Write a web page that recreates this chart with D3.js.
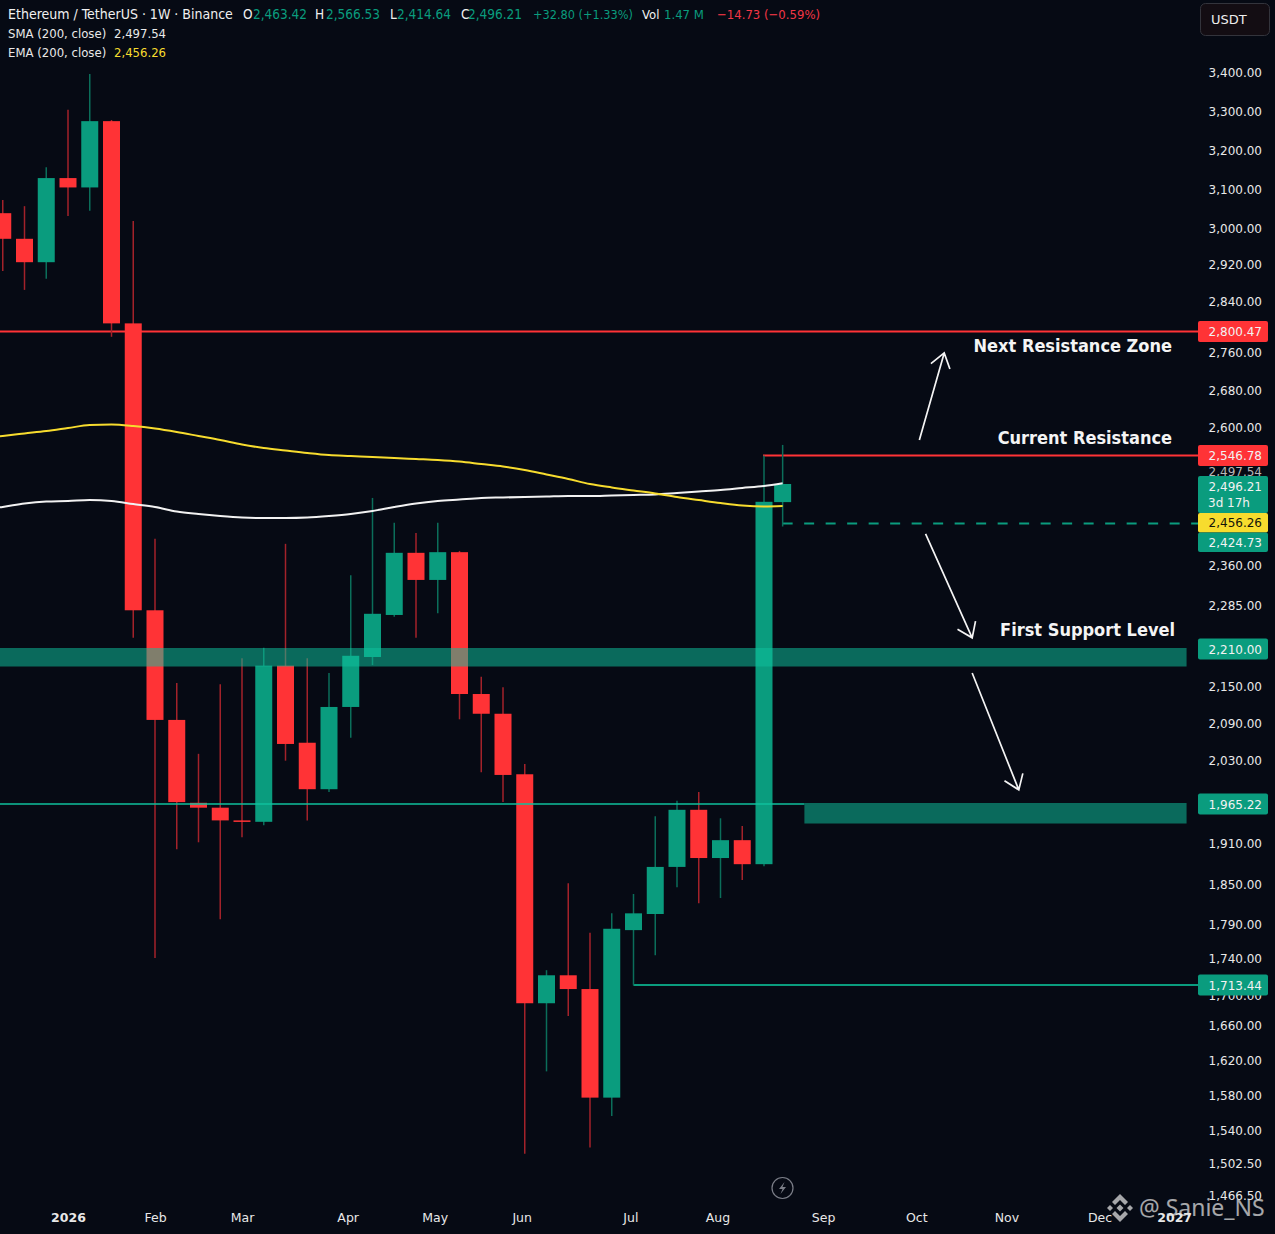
<!DOCTYPE html>
<html>
<head>
<meta charset="utf-8">
<script src="https://cdn.jsdelivr.net/npm/d3@7"></script>
<style>
html, body { margin: 0; padding: 0; background: #060a14; overflow: hidden; }
text { font-family: "DejaVu Sans", sans-serif; }
</style>
</head>
<body>
<script>
// weekly candles
var weeks = ["2025-12-08","2025-12-15","2025-12-22","2025-12-29","2026-01-05","2026-01-12","2026-01-19","2026-01-26","2026-02-02","2026-02-09","2026-02-16","2026-02-23","2026-03-02","2026-03-09","2026-03-16","2026-03-23","2026-03-30","2026-04-06","2026-04-13","2026-04-20","2026-04-27","2026-05-04","2026-05-11","2026-05-18","2026-05-25","2026-06-01","2026-06-08","2026-06-15","2026-06-22","2026-06-29","2026-07-06","2026-07-13","2026-07-20","2026-07-27","2026-08-03","2026-08-10","2026-08-17","2026-08-23"];
var opens  = [3100,3038,2976,2924,3128,3104,3274,2811,2276,2095,1967,1960,1942,1940,2183,2058,1987,2116,2197,2268,2379,2332,2380,2137,2105,2009,1689,1723,1708,1577,1781,1805,1875,1957,1888,1914,1879,2463.42];
var highs  = [3120,3072,3056,3156,3303,3395,3277,3018,2401,2155,2040,2153,2195,2212,2393,2195,2171,2341,2471,2426,2410,2426,2382,2165,2148,2024,1728,1851,1777,1806,1835,1948,1970,1983,1945,1934,2547,2566.53];
var lows   = [3010,2905,2864,2888,3031,3044,2790,2229,1740,1901,1911,1797,1918,1935,2029,1942,1983,2066,2184,2265,2229,2271,2096,2012,1968,1513,1607,1672,1520,1556,1713,1744,1845,1821,1829,1856,1876,2420];
var closes = [3038,2976,2924,3128,3104,3274,2811,2276,2095,1968,1960,1942,1940,2183,2056,1987,2116,2199,2270,2379,2332,2380,2137,2105,2008,1689,1723,1708,1577,1783,1806,1875,1957,1888,1914,1879,2464,2496.21];
var smaValues = [2450,2454.6,2461,2464.5,2465.4,2467.2,2465.4,2460,2454.6,2446.4,2441.9,2438.3,2435.6,2434.7,2434.7,2435.6,2438.3,2441.9,2447.3,2454.6,2461,2465.4,2468.2,2470.9,2471.8,2472.7,2473.6,2474.5,2474.5,2475.4,2476.3,2477.2,2479.9,2482.6,2485.3,2489,2492.6,2497.54];
var emaValues = [2578,2583.2,2587.9,2592.5,2598.1,2604.3,2605.4,2602.2,2597.2,2590.7,2583.2,2575.7,2567.3,2560.8,2556.1,2551.5,2547.7,2545.9,2544.1,2542.4,2540.6,2538.8,2536.1,2531.7,2527.3,2521,2513.1,2505.1,2496.2,2489.9,2484.4,2479,2472.7,2467.2,2461.8,2457.3,2455.5,2456.26];

// axes
var tickPrices = [3400,3300,3200,3100,3000,2920,2840,2760,2680,2600,2360,2285,2150,2090,2030,1910,1850,1790,1740,1700,1660,1620,1580,1540,1502.5,1466.5];
var monthDates = ["2026-01-05","2026-02-02","2026-03-02","2026-04-05","2026-05-03","2026-05-31","2026-07-05","2026-08-02","2026-09-05","2026-10-05","2026-11-03","2026-12-03","2026-12-27"];
var monthLabels = ["2026","Feb","Mar","Apr","May","Jun","Jul","Aug","Sep","Oct","Nov","Dec","2027"];

// the price axis is not regular, so it is calibrated on the printed labels
var knotPrices = [3400,3300,3200,3100,3000,2920,2840,2800.47,2760,2680,2600,2546.78,2496.21,2424.73,2360,2285,2210,2150,2090,2030,1965.22,1910,1850,1790,1740,1713.44,1700,1660,1620,1580,1540,1502.5,1466.5];
var knotRows = [72,111,150,189,228,264,301,331.5,352,390,427,455.5,484,523.5,565,605,649,686,723,760,804,843,884,924,958,985,995,1025,1060,1095,1130,1163,1195];

// levels and zones
var tagPrices = [2800.47,2546.78,2496.21,2456.26,2424.73,2210,1965.22,1713.44];
var tagKinds = ["red","red","green","yellow","green","green","green","green"];
var zoneTops = [2210,1965.22];
var zoneBottoms = [2181.6,1937.6];
var zoneStarts = ["2025-12-01","2026-08-30"];
var zoneEnd = "2026-12-31";
var axisEdge = "2027-01-04";
var arrowDates = [["2026-10-06","2026-10-14"],["2026-10-08","2026-10-23"],["2026-10-23","2026-11-07"]];
var arrowPrices = [[2575.7,2758],[2408.4,2229],[2171,1986]];
var noteTexts = ["Next Resistance Zone","Current Resistance","First Support Level"];
var notePrices = [2760,2568,2232];

var GREEN = "#0a9c7e", RED = "#ff3336", YELLOW = "#f7dc2e";
var WICK_G = "#0b6e5a", WICK_R = "#a3222a", BAND = "#0fc09d";
var fmt = d3.format(",.2f");
var day = d3.utcParse("%Y-%m-%d");
var last = weeks.length-1;

var svg = d3.select("body").append("svg").attr("width",1275).attr("height",1234).style("display","block");

var x = d3.scaleUtc().domain([day("2026-01-05"),day("2026-08-24")]).range([68,785.75]);
var y = d3.scaleLinear().domain(knotPrices).range(knotRows);
var right = x(day(axisEdge));

var candles = weeks.map(function(w,i){
	return {date:day(w),o:opens[i],h:highs[i],l:lows[i],c:closes[i],up:closes[i]>=opens[i]};
});

// levels under the candles
var under = svg.append("g");
under.append("line").attr("x1",0).attr("x2",right).attr("y1",y(2800.47)).attr("y2",y(2800.47)).attr("stroke",RED).attr("stroke-width",2);
under.append("line").attr("x1",x(day("2026-08-17"))-1).attr("x2",right).attr("y1",y(2546.78)).attr("y2",y(2546.78)).attr("stroke",RED).attr("stroke-width",2);
under.append("line").attr("x1",x(day("2026-08-23"))).attr("x2",right).attr("y1",y(2424.73)).attr("y2",y(2424.73)).attr("stroke",GREEN).attr("stroke-width",2).attr("stroke-dasharray","10 11.5");
under.append("line").attr("x1",x(day("2026-07-06"))).attr("x2",right).attr("y1",y(1713.44)).attr("y2",y(1713.44)).attr("stroke",GREEN).attr("stroke-width",2);

// candles
var bodyW = 17;
var cg = svg.append("g").selectAll("g").data(candles).enter().append("g");
cg.append("line")
	.attr("x1",function(d){return x(d.date);}).attr("x2",function(d){return x(d.date);})
	.attr("y1",function(d){return y(d.h);}).attr("y2",function(d){return y(d.l);})
	.attr("stroke",function(d){return d.up?WICK_G:WICK_R;}).attr("stroke-width",1.5);
cg.append("rect")
	.attr("x",function(d){return x(d.date)-bodyW/2;}).attr("width",bodyW)
	.attr("y",function(d){return y(Math.max(d.o,d.c));})
	.attr("height",function(d){return Math.max(1.5,y(Math.min(d.o,d.c))-y(Math.max(d.o,d.c)));})
	.attr("fill",function(d){return d.up?GREEN:RED;});

// moving averages
var maLine = function(vals){
	return d3.line().x(function(d,i){return x(day(weeks[i]));}).y(function(d){return y(d);}).curve(d3.curveMonotoneX)(vals);
};
svg.append("path").attr("d",maLine(smaValues)).attr("fill","none").attr("stroke","#f2f2f2").attr("stroke-width",2);
svg.append("path").attr("d",maLine(emaValues)).attr("fill","none").attr("stroke",YELLOW).attr("stroke-width",2);

// zones and the thin support line go over the candles
svg.append("line").attr("x1",0).attr("x2",x(day(zoneStarts[1]))).attr("y1",y(1965.22)).attr("y2",y(1965.22)).attr("stroke",BAND).attr("stroke-width",2).attr("opacity",0.75);
svg.append("g").selectAll("rect").data(zoneTops).enter().append("rect")
	.attr("x",function(d,i){return x(day(zoneStarts[i]));})
	.attr("width",function(d,i){return x(day(zoneEnd))-x(day(zoneStarts[i]));})
	.attr("y",function(d){return y(d)-1;})
	.attr("height",function(d,i){return y(zoneBottoms[i])-y(d)+1;})
	.attr("fill",BAND).attr("opacity",0.53);

// hand drawn arrows
arrowDates.forEach(function(a,i){
	var x0=x(day(a[0])), y0=y(arrowPrices[i][0]), x1=x(day(a[1])), y1=y(arrowPrices[i][1]);
	var ang=Math.atan2(y1-y0,x1-x0), len=17, wing=0.62;
	var d="M"+x0+","+y0+"L"+x1+","+y1+
		"M"+(x1-len*Math.cos(ang-wing))+","+(y1-len*Math.sin(ang-wing))+"L"+x1+","+y1+
		"L"+(x1-len*Math.cos(ang+wing))+","+(y1-len*Math.sin(ang+wing));
	svg.append("path").attr("d",d).attr("fill","none").attr("stroke","#f4f4f4").attr("stroke-width",1.7);
});

var noteX = [1172,1172,1175];
noteTexts.forEach(function(t,i){
	svg.append("text").attr("x",noteX[i]).attr("y",y(notePrices[i])).attr("text-anchor","end")
		.style("font-size","18px").style("font-weight","bold").style("font-stretch","condensed").attr("fill","#f4f4f4").text(t);
});

// price axis
var yAxis = svg.append("g").attr("transform","translate(1198,0)").call(d3.axisRight(y).tickValues(tickPrices).tickFormat(fmt).tickSize(0));
yAxis.select(".domain").remove();
yAxis.selectAll("text").attr("x",64).attr("dy","0.36em").attr("text-anchor","end").style("font-size","12px").style("font-family","DejaVu Sans").attr("fill","#e8e8e8");

// the SMA tag is almost hidden by the ones around it
svg.append("text").attr("x",1262).attr("y",472).attr("dy","0.35em").attr("text-anchor","end").style("font-size","12px").attr("fill","#b8b8b8").text(fmt(smaValues[last]));

// price tags, pushed down when they collide
var tagBottom = 0;
tagPrices.forEach(function(p,i){
	var two = p===2496.21;
	var h = two?37:21, top = y(p)-(two?8:10.5);
	if (top<tagBottom) { top=tagBottom; h=19.5; }
	tagBottom = top+h;
	var fill = tagKinds[i]=="red"?RED:(tagKinds[i]=="yellow"?YELLOW:GREEN);
	svg.append("rect").attr("x",1198).attr("y",top).attr("width",70).attr("height",h).attr("rx",2).attr("fill",fill);
	svg.append("text").attr("x",1262).attr("y",top+(two?10.5:h/2+0.5)).attr("dy","0.35em").attr("text-anchor","end").style("font-size","12px")
		.attr("fill",tagKinds[i]=="yellow"?"#14140a":"#f2f2f2").text(fmt(p));
	if (two) svg.append("text").attr("x",1208).attr("y",top+27).attr("dy","0.35em").style("font-size","12px").attr("fill","#f2f2f2").text("3d 17h");
});

// time axis
var xAxis = svg.append("g").attr("transform","translate(0,1217)").call(d3.axisBottom(x).tickValues(monthDates.map(day)).tickSize(0).tickFormat(function(d,i){return monthLabels[i];}));
xAxis.select(".domain").remove();
xAxis.selectAll("text").attr("y",0).attr("dy","0.36em").style("font-size","12.5px").style("font-family","DejaVu Sans").attr("fill","#e8e8e8")
	.style("font-weight",function(d,i){return (i==0||i==monthLabels.length-1)?"bold":"normal";});

// legend rows
var hdr = svg.append("g").style("font-stretch","condensed");
var row1 = [[8,"Ethereum / TetherUS · 1W · Binance","#f0f0f0",14],[243,"O","#f0f0f0",13.5],[253,fmt(opens[last]),GREEN,13.5],[315,"H","#f0f0f0",13.5],[326,fmt(highs[last]),GREEN,13.5],[390,"L","#f0f0f0",13.5],[397,"2,414.64",GREEN,13.5],[461,"C","#f0f0f0",13.5],[468,fmt(closes[last]),GREEN,13.5],[533,"+32.80 (+1.33%)",GREEN,12.6],[642,"Vol","#f0f0f0",13],[664,"1.47 M",GREEN,13],[717,"−14.73 (−0.59%)","#f23645",13]];
row1.forEach(function(r){ hdr.append("text").attr("x",r[0]).attr("y",14.5).attr("dy","0.35em").style("font-size",r[3]+"px").attr("fill",r[2]).text(r[1]); });
var row2 = [[8,33.5,"SMA (200, close)","#e8e8e8"],[114,33.5,fmt(smaValues[last]),"#e8e8e8"],[8,52.5,"EMA (200, close)","#e8e8e8"],[114,52.5,fmt(emaValues[last]),YELLOW]];
row2.forEach(function(r){ hdr.append("text").attr("x",r[0]).attr("y",r[1]).attr("dy","0.35em").style("font-size","13px").attr("fill",r[3]).text(r[2]); });

// currency button
svg.append("rect").attr("x",1200.5).attr("y",3.5).attr("width",69).attr("height",32).attr("rx",5).attr("fill","#130d13").attr("stroke","#33343c");
svg.append("text").attr("x",1211).attr("y",19.5).attr("dy","0.35em").style("font-size","13px").attr("fill","#eeeeee").text("USDT");

// lightning icon
var bolt = svg.append("g").attr("transform","translate(782.5,1188)");
bolt.append("circle").attr("r",10.5).attr("fill","none").attr("stroke","#7b7e88").attr("stroke-width",1.2);
bolt.append("path").attr("d","M2,-6L-3.5,1H0L-2,6L3.5,-1H0Z").attr("fill","#7b7e88");

// watermark
var wm = svg.append("g").attr("opacity",0.72);
var logo = wm.append("g").attr("transform","translate(1120,1208)").attr("fill","#e4e4e4");
logo.append("path").attr("d","M0,-3.5L3.5,0L0,3.5L-3.5,0Z");
logo.append("path").attr("d","M-10,-3L-7,0L-10,3L-13,0Z");
logo.append("path").attr("d","M10,-3L13,0L10,3L7,0Z");
logo.append("path").attr("d","M0,-14L8,-6L5,-3L0,-8L-5,-3L-8,-6Z");
logo.append("path").attr("d","M0,14L8,6L5,3L0,8L-5,3L-8,6Z");
wm.append("text").attr("x",1139).attr("y",1216).style("font-size","23px").style("font-family","Noto Sans").attr("fill","#e4e4e4").text("@ Sanie_NS");
</script>
</body>
</html>
